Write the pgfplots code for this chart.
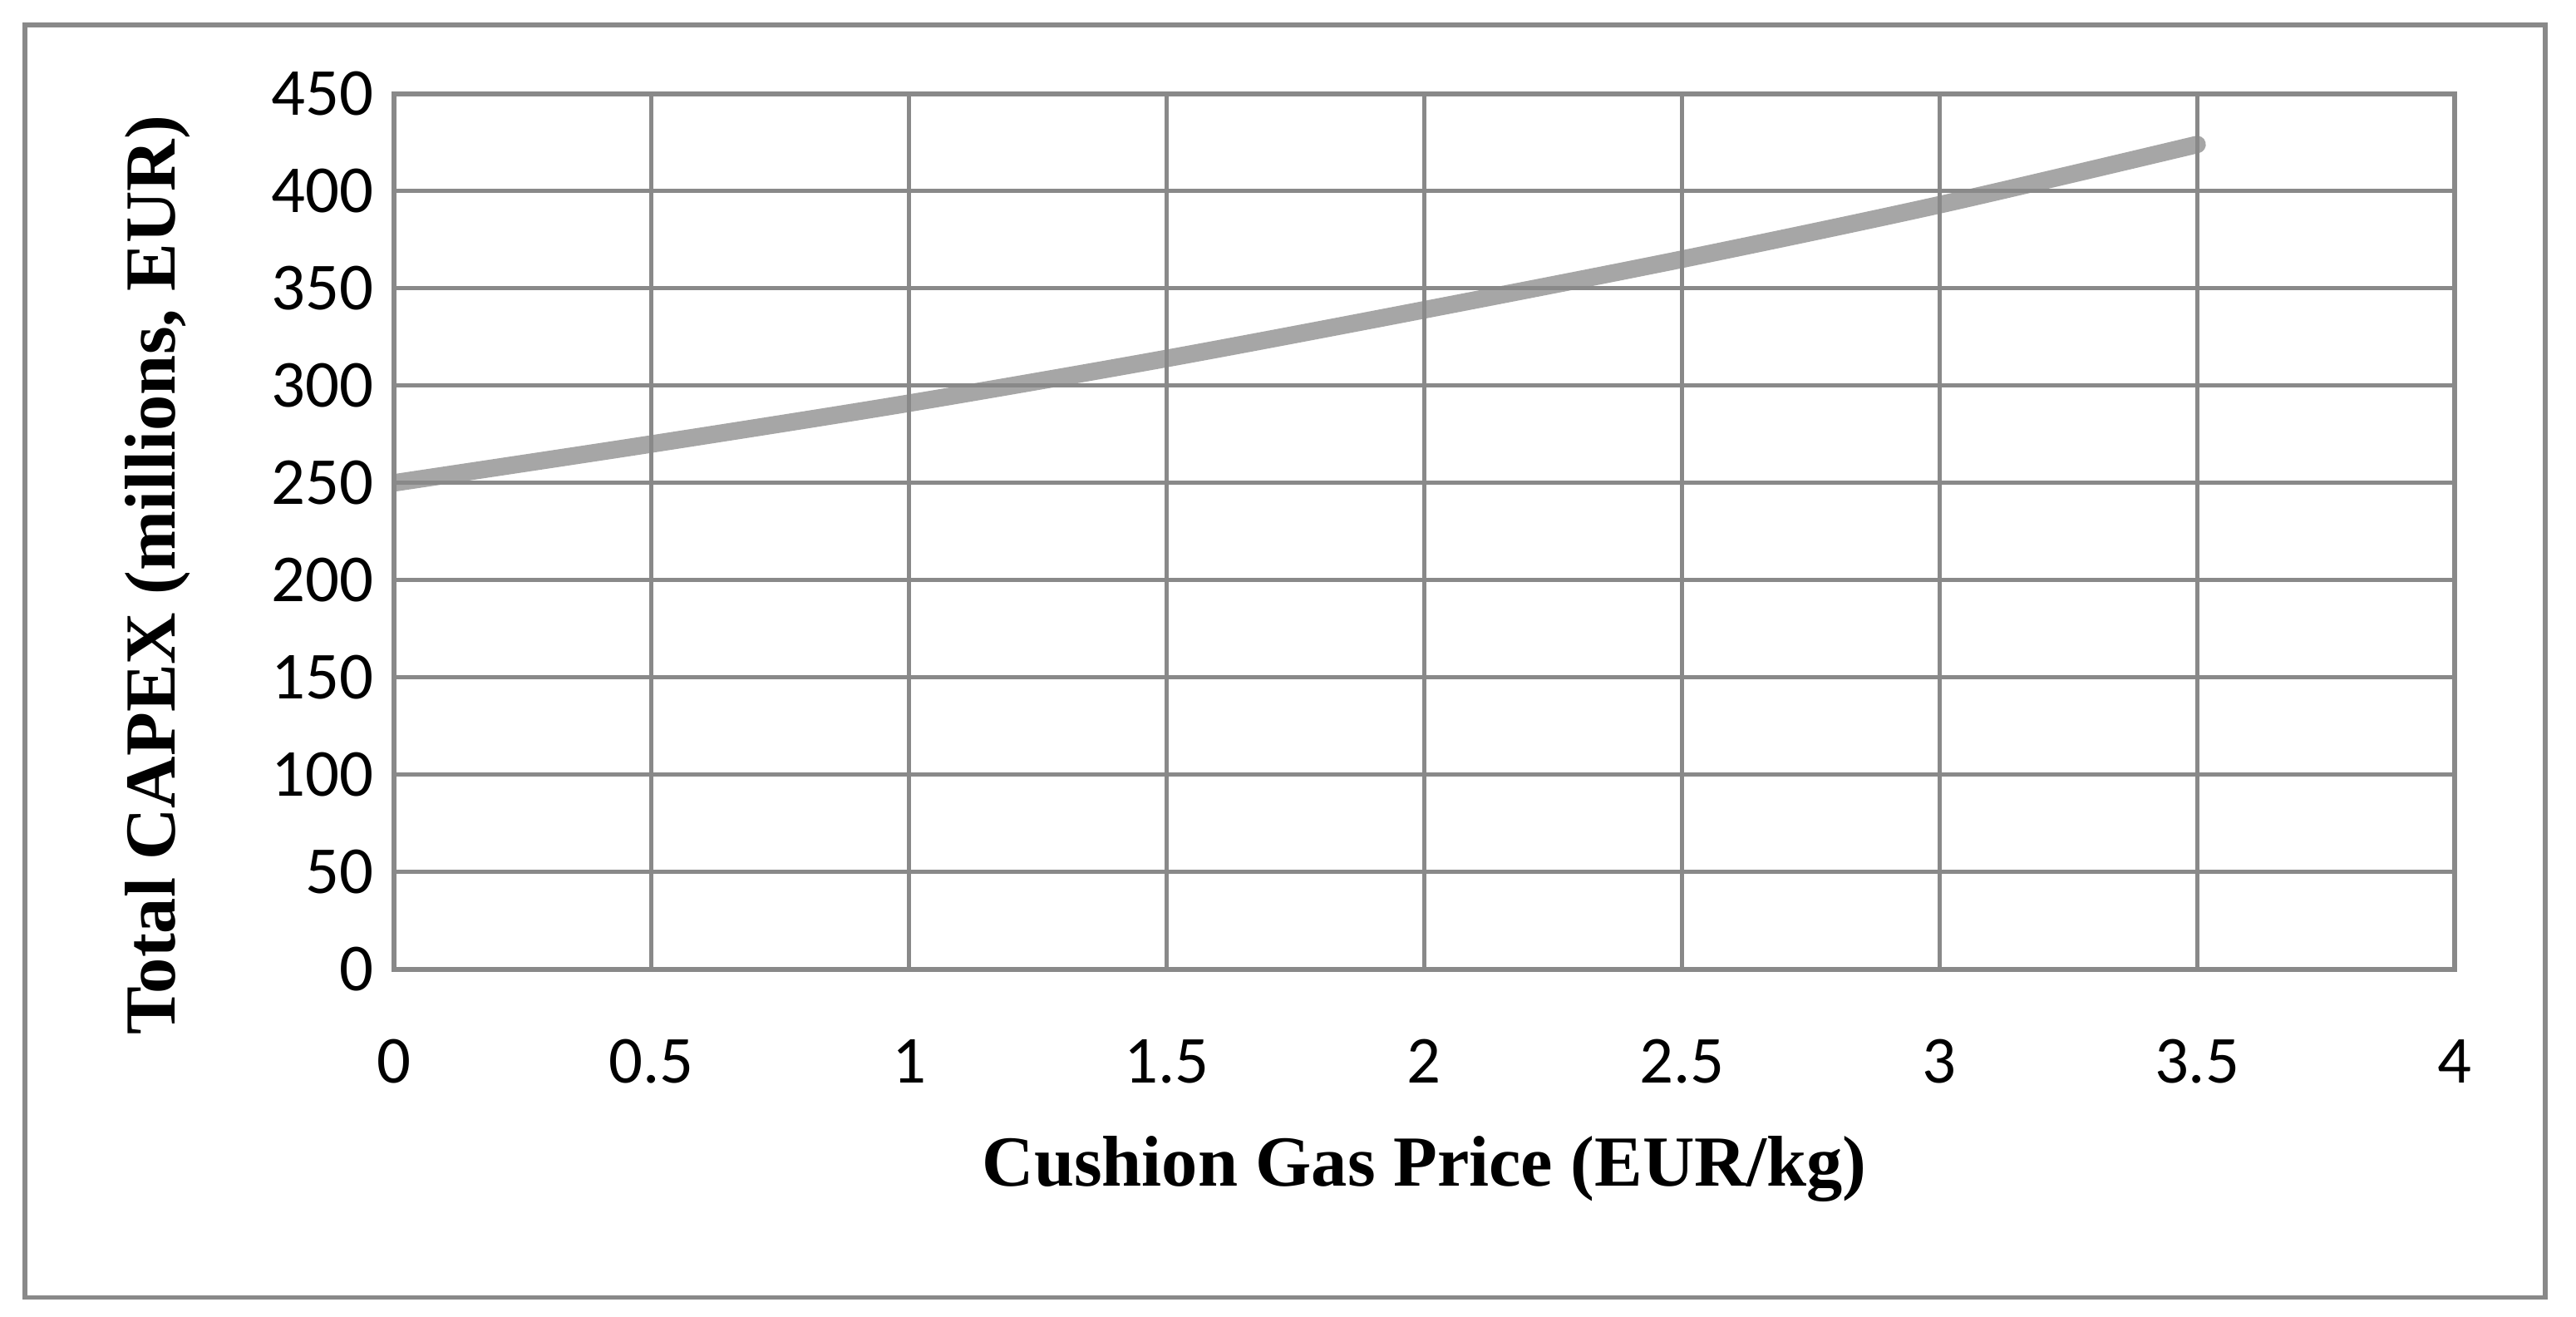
\documentclass[border=0pt]{standalone}
\usepackage{fontspec}
\setmainfont{Carlito}
\newfontfamily\labelfont{Liberation Serif}
\usepackage{pgfplots}
\pgfplotsset{compat=1.18}
\usetikzlibrary{calc}

\definecolor{gridgray}{RGB}{137,137,137}
\definecolor{linegray}{RGB}{166,166,166}

\begin{document}
\begin{tikzpicture}
\begin{axis}[
    name=ax,
    scale only axis,
    width=12.4cm, height=5.265cm,
    xmin=0, xmax=4, ymin=0, ymax=450,
    xtick={0,0.5,...,4},
    ytick={0,50,...,450},
    xticklabels={0,0.5,1,1.5,2,2.5,3,3.5,4},
    /pgf/number format/assume math mode=true,
    tick label style={font=\fontsize{11.5}{13}\selectfont},
    xticklabel style={yshift=-0.3cm},
    major tick length=0pt,
    axis on top,
    grid=major,
    grid style={gridgray, line width=0.7pt},
    axis line style={gridgray, line width=0.85pt},
    xlabel={\labelfont\bfseries\fontsize{12.3}{14}\selectfont Cushion Gas Price (EUR/kg)},
    ylabel={\labelfont\bfseries\fontsize{12.3}{14}\selectfont Total CAPEX (millions, EUR)},
    xlabel style={at={(axis description cs:0.5,-0.228)}, anchor=center},
    ylabel style={at={(axis description cs:-0.1145,0.45)}, anchor=center},
]
\addplot[linegray, line width=3pt, line cap=round, smooth] coordinates {
    (0,250) (0.5,270) (1,291) (1.5,314) (2,339) (2.5,365) (3,393) (3.5,424)
};
\end{axis}
% outer frame and page extent
\path (ax.south west) ++(-2.37cm,-2.09cm) coordinate (pgll);
\path (pgll) ++(15.5cm,7.92cm) coordinate (pgur);
\path[use as bounding box] (pgll) rectangle (pgur);
\draw[gridgray, line width=0.75pt] ($(pgll)+(0.15cm,0.115cm)$) rectangle ($(pgll)+(15.315cm,7.77cm)$);
\end{tikzpicture}
\end{document}
